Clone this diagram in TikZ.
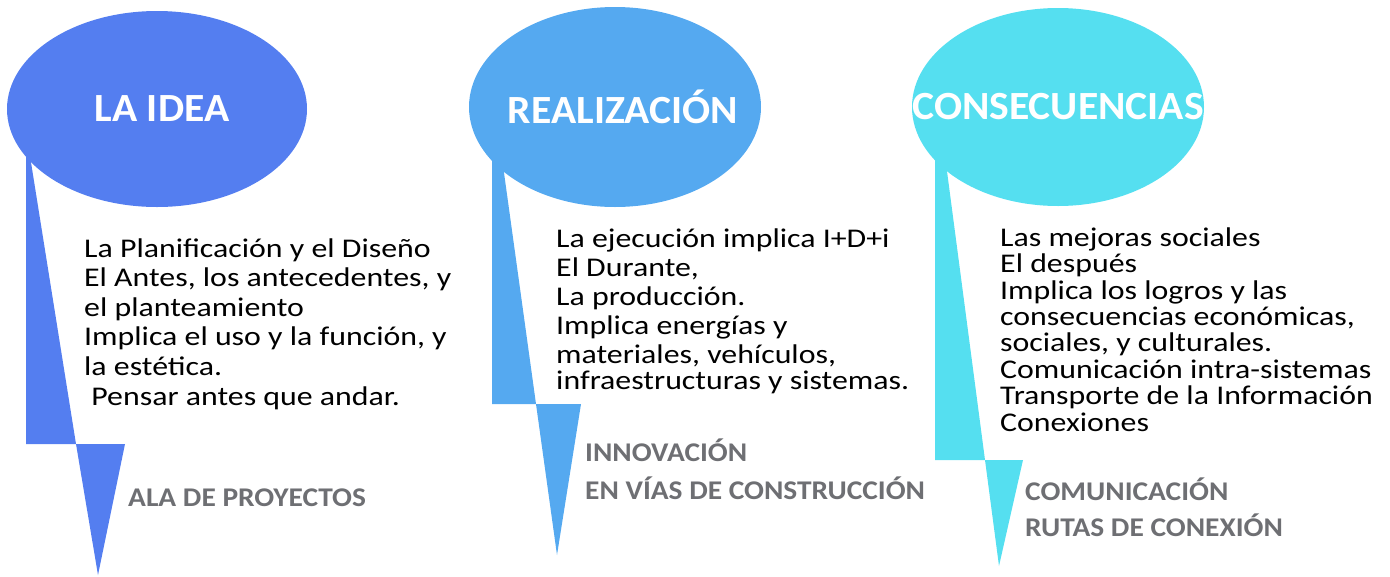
\documentclass[tikz,border=0pt]{standalone}
\usepackage{fontspec}
\setmainfont{Carlito}
\newfontfamily\bodyfont[FakeStretch=1.18]{Carlito}
\newfontfamily\titlefont[FakeStretch=1.04]{Carlito}
\newfontfamily\labelfont[FakeStretch=1.09]{Carlito}
\usetikzlibrary{shapes.geometric}

\definecolor{ideablue}{RGB}{84,126,240}
\definecolor{realblue}{RGB}{85,169,240}
\definecolor{consblue}{RGB}{85,223,240}
\definecolor{labelgray}{RGB}{110,111,115}

\tikzset{
  bubble/.style={ellipse,inner sep=0pt,minimum width=#1},
  titletext/.style={text=white,font=\fontsize{40}{44}\titlefont\bfseries},
  bodytext/.style={anchor=base west,inner sep=0pt,align=left,
    font=\fontsize{27}{#1}\bodyfont},
  graytext/.style={anchor=base west,inner sep=0pt,align=left,text=labelgray,
    font=\fontsize{27}{#1}\labelfont\bfseries}
}

\begin{document}
\begin{tikzpicture}[x=1pt,y=-1pt]
\useasboundingbox (0,0) rectangle (1390,576);

% la idea
\fill[color=ideablue] (26,131) -- (26,444) -- (76,444) -- cycle;
\fill[color=ideablue] (76,444) -- (125,444) -- (98,575) -- cycle;
\node[bubble=300pt,minimum height=196pt,fill=ideablue] (idea) at (157,109) {};
\node[titletext] (ideatitle) at ([xshift=5pt]idea.center) {LA IDEA};
\node[bodytext=29.6pt] (ideatext) at (84,405) {La Planificación y el Diseño\\
El Antes, los antecedentes, y\\
el planteamiento\\
Implica el uso y la función, y\\
la estética.\\
\ Pensar antes que andar.};
\node[graytext=38pt] (idealabel) at (128,506) {ALA DE PROYECTOS};

% realizacion
\fill[color=realblue] (492,86) -- (492,404) -- (536,404) -- cycle;
\fill[color=realblue] (536,404) -- (581,404) -- (557,555) -- cycle;
\node[bubble=292pt,minimum height=200pt,fill=realblue] (real) at (615,107) {};
\node[titletext] (realtitle) at ([xshift=8pt]real.center) {REALIZACIÓN};
\node[bodytext=29pt] (realtext) at (556,389) {La ejecución implica I+D+i\\
El Durante,\\
La producción.\\
Implica energías y\\
materiales, vehículos,\\[-3pt]
infraestructuras y sistemas.};
\node[graytext=38pt] (reallabel) at (585,499) {INNOVACIÓN\\EN VÍAS DE CONSTRUCCIÓN};

% consecuencias
\fill[color=consblue] (935,80) -- (935,460) -- (985,460) -- cycle;
\fill[color=consblue] (985,460) -- (1023,460) -- (999,566) -- cycle;
\node[bubble=292pt,minimum height=198pt,fill=consblue] (cons) at (1058,107) {};
\node[titletext] (constitle) at (cons.center) {CONSECUENCIAS};
\node[bodytext=26.4pt] (constext) at (1000,431) {Las mejoras sociales\\
El después\\
Implica los logros y las\\
consecuencias económicas,\\
sociales, y culturales.\\
Comunicación intra-sistemas\\
Transporte de la Información\\
Conexiones};
\node[graytext=36pt] (conslabel) at (1025,536) {COMUNICACIÓN\\RUTAS DE CONEXIÓN};
\end{tikzpicture}
\end{document}
